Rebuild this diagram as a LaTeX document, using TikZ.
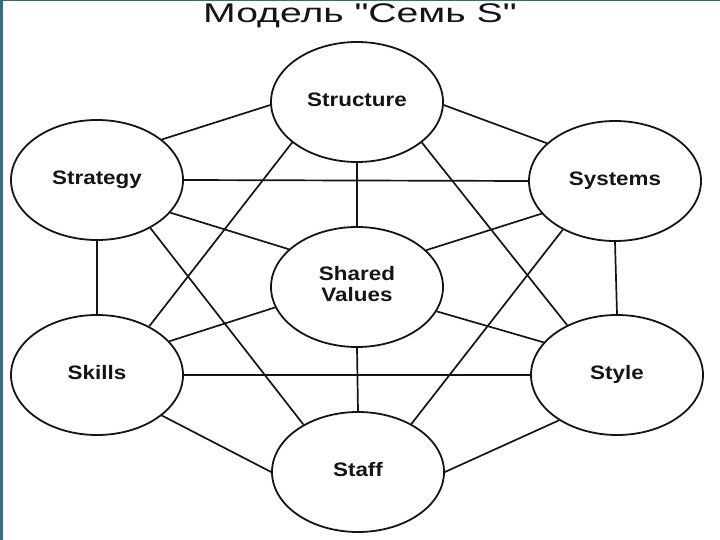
\documentclass[tikz,border=0pt]{standalone}
\usepackage{fontspec}
\setmainfont{Liberation Sans}
\newfontfamily\titlefont{Liberation Sans}
\usetikzlibrary{shapes.geometric}
\definecolor{frame}{HTML}{2A6F8F}
\definecolor{ink}{HTML}{151515}
\newcommand{\lbl}[1]{\scalebox{1.15}[1]{#1}}
\begin{document}
\begin{tikzpicture}[x=1pt,y=-1pt,
  sbox/.style={ellipse, draw=ink, line width=1.8pt, minimum width=172pt, minimum height=120pt, inner sep=0pt, font=\fontsize{19.5}{20.5}\selectfont\bfseries, text=ink},
  link/.style={draw=ink, line width=1.7pt}]
\useasboundingbox (0,0) rectangle (720,540);
\fill[white] (0,0) rectangle (720,540);
\fill[frame] (0,0) rectangle (2.5,540);
\fill[frame] (0,0) rectangle (720,1.5);
\node[anchor=base, inner sep=0pt, text=ink] (title) at (360,23) {\titlefont\fontsize{27}{30}\selectfont\scalebox{1.45}[1]{Модель "Семь S"}};

\node[sbox] (structure) at (357,102) {\raisebox{5pt}{\lbl{Structure}}};
\node[sbox] (strategy) at (97,180) {\raisebox{5pt}{\lbl{Strategy}}};
\node[sbox] (systems) at (615,181) {\raisebox{5pt}{\lbl{Systems}}};
\node[sbox] (shared) at (357,287) {\raisebox{8pt}{\lbl{\begin{tabular}{@{}c@{}}Shared\\Values\end{tabular}}}};
\node[sbox] (skills) at (97,375) {\raisebox{5pt}{\lbl{Skills}}};
\node[sbox] (style) at (617,375) {\raisebox{5pt}{\lbl{Style}}};
\node[sbox] (staff) at (358,472) {\raisebox{5pt}{\lbl{Staff}}};

\draw[link] (strategy.32) -- (structure.182);
\draw[link] (structure.-2) -- (systems.151);
\draw[link] (structure.270) -- (shared.90);
\draw[link] (structure.212) -- (skills.43);
\draw[link] (structure.328) -- (style.135);
\draw[link] (strategy.0) -- (systems.180);
\draw[link] (strategy.-24) -- (shared.151);
\draw[link] (strategy.270) -- (skills.90);
\draw[link] (strategy.-42) -- (staff.139);
\draw[link] (systems.204) -- (shared.28);
\draw[link] (systems.270) -- (style.90);
\draw[link] (systems.223) -- (staff.42);
\draw[link] (shared.194) -- (skills.25);
\draw[link] (shared.-17) -- (style.156);
\draw[link] (shared.270) -- (staff.90);
\draw[link] (skills.0) -- (style.180);
\draw[link] (skills.-32) -- (staff.180);
\draw[link] (style.218) -- (staff.0);
\end{tikzpicture}
\end{document}
